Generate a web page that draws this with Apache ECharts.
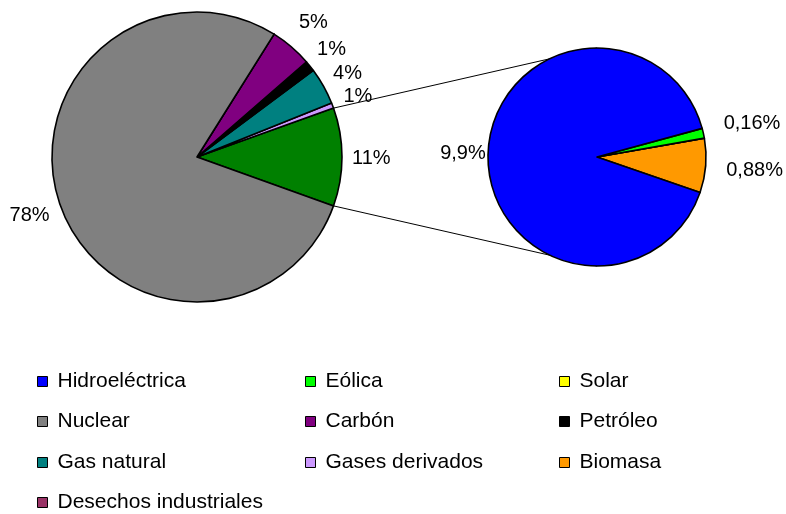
<!DOCTYPE html>
<html>
<head>
<meta charset="utf-8">
<script src="https://cdn.jsdelivr.net/npm/echarts@6/dist/echarts.min.js"></script>
<style>
html, body { margin: 0; padding: 0; background: #fff; }
#main { width: 786px; height: 514px; }
</style>
</head>
<body>
<div id="main"></div>
<script>
// producción eléctrica por fuente (% del total)
const mainNames = ['Gases derivados', 'Gas natural', 'Petróleo', 'Carbón', 'Desechos industriales', 'Nuclear'];
const mainValues = [0.6, 4.1, 1.2, 4.7, 0, 78.4];
// detalle del sector verde (renovables)
const renewNames = ['Biomasa', 'Solar', 'Eólica', 'Hidroeléctrica'];
const renewValues = [0.88, 0, 0.16, 9.9];
const legendNames = ['Hidroeléctrica', 'Eólica', 'Solar', 'Nuclear', 'Carbón', 'Petróleo',
    'Gas natural', 'Gases derivados', 'Biomasa', 'Desechos industriales'];

const colors = {
    'Hidroeléctrica': '#0000ff',
    'Eólica': '#00ff00',
    'Solar': '#ffff00',
    'Nuclear': '#808080',
    'Carbón': '#800080',
    'Petróleo': '#000000',
    'Gas natural': '#008080',
    'Gases derivados': '#cc99ff',
    'Biomasa': '#ff9900',
    'Desechos industriales': '#993366',
    'Otros': '#008000'
};
const FONT = 'Arial, "Liberation Sans", sans-serif';

/* geometría de las dos tartas */
const pieL = { cx: 197, cy: 157, r: 145 };
const pieR = { cx: 597, cy: 157, r: 109 };
const labelGap = { 'Carbón': 17, 'Hidroeléctrica': 2 };

const sum = arr => arr.reduce((a, b) => a + b, 0);
const renewTotal = sum(renewValues);
const leftNames = ['Otros'].concat(mainNames);
const leftValues = [renewTotal].concat(mainValues);
const otherAngle = renewTotal / sum(leftValues) * 360;
const startL = -otherAngle / 2;
const startR = -19;

function midAngles(values, start) {
    const total = sum(values);
    let a = start;
    return values.map(v => {
        const span = v / total * 360;
        const m = a + span / 2;
        a += span;
        return m;
    });
}

function placeLabel(pie, names, values, start, gapDefault) {
    const mids = midAngles(values, start);
    return function (p) {
        const name = names[p.dataIndex];
        const a = mids[p.dataIndex] * Math.PI / 180;
        const w = p.labelRect.width, h = p.labelRect.height;
        const gap = labelGap[name] != null ? labelGap[name] : gapDefault;
        const t = pie.r + gap + Math.abs(Math.cos(a)) * w / 2 + Math.abs(Math.sin(a)) * h / 2;
        return {
            x: pie.cx + t * Math.cos(a) - w / 2,
            y: pie.cy - t * Math.sin(a) - h / 2 + 1,
            align: 'left',
            verticalAlign: 'top'
        };
    };
}

function pieData(names, values) {
    return names.map((n, i) => ({ name: n, value: values[i], itemStyle: { color: colors[n] } }));
}

const labelStyle = { fontSize: 20, fontFamily: FONT, color: '#000' };
const aTop = otherAngle / 2 * Math.PI / 180;

const chart = echarts.init(document.getElementById('main'));
chart.setOption({
    backgroundColor: '#fff',
    animation: false,
    legend: legendNames.map((n, i) => ({
        data: [n],
        left: [37, 305, 559][i % 3],
        top: [381, 421, 462, 502][Math.floor(i / 3)] - 10,
        padding: 0,
        itemWidth: 10,
        itemHeight: 10,
        icon: 'rect',
        selectedMode: false,
        itemStyle: { borderColor: '#000', borderWidth: 1 },
        textStyle: { fontSize: 21, fontFamily: FONT, color: '#000', padding: [0, 0, 0, 5] }
    })),
    graphic: [
        {
            type: 'line', z: 0,
            shape: {
                x1: pieL.cx + pieL.r * Math.cos(aTop), y1: pieL.cy - pieL.r * Math.sin(aTop),
                x2: pieR.cx, y2: pieR.cy - pieR.r
            },
            style: { stroke: '#000', lineWidth: 1 }
        },
        {
            type: 'line', z: 0,
            shape: {
                x1: pieL.cx + pieL.r * Math.cos(aTop), y1: pieL.cy + pieL.r * Math.sin(aTop),
                x2: pieR.cx, y2: pieR.cy + pieR.r
            },
            style: { stroke: '#000', lineWidth: 1 }
        }
    ],
    series: [
        {
            type: 'pie',
            center: [pieL.cx, pieL.cy],
            radius: pieL.r,
            startAngle: startL,
            clockwise: false,
            avoidLabelOverlap: false,
            minShowLabelAngle: 0,
            emphasis: { disabled: true },
            itemStyle: { borderColor: '#000', borderWidth: 1.6 },
            label: Object.assign({
                show: true, position: 'outside',
                formatter: p => p.value ? Math.round(p.value) + '%' : ''
            }, labelStyle),
            labelLine: { show: false },
            labelLayout: placeLabel(pieL, leftNames, leftValues, startL, 10),
            data: pieData(leftNames, leftValues)
        },
        {
            type: 'pie',
            center: [pieR.cx, pieR.cy],
            radius: pieR.r,
            startAngle: startR,
            clockwise: false,
            avoidLabelOverlap: false,
            minShowLabelAngle: 0,
            emphasis: { disabled: true },
            itemStyle: { borderColor: '#000', borderWidth: 1.6 },
            label: Object.assign({
                show: true, position: 'outside',
                formatter: p => p.value ? String(p.value).replace('.', ',') + '%' : ''
            }, labelStyle),
            labelLine: { show: false },
            labelLayout: placeLabel(pieR, renewNames, renewValues, startR, 20),
            data: pieData(renewNames, renewValues)
        }
    ]
});
</script>
</body>
</html>
